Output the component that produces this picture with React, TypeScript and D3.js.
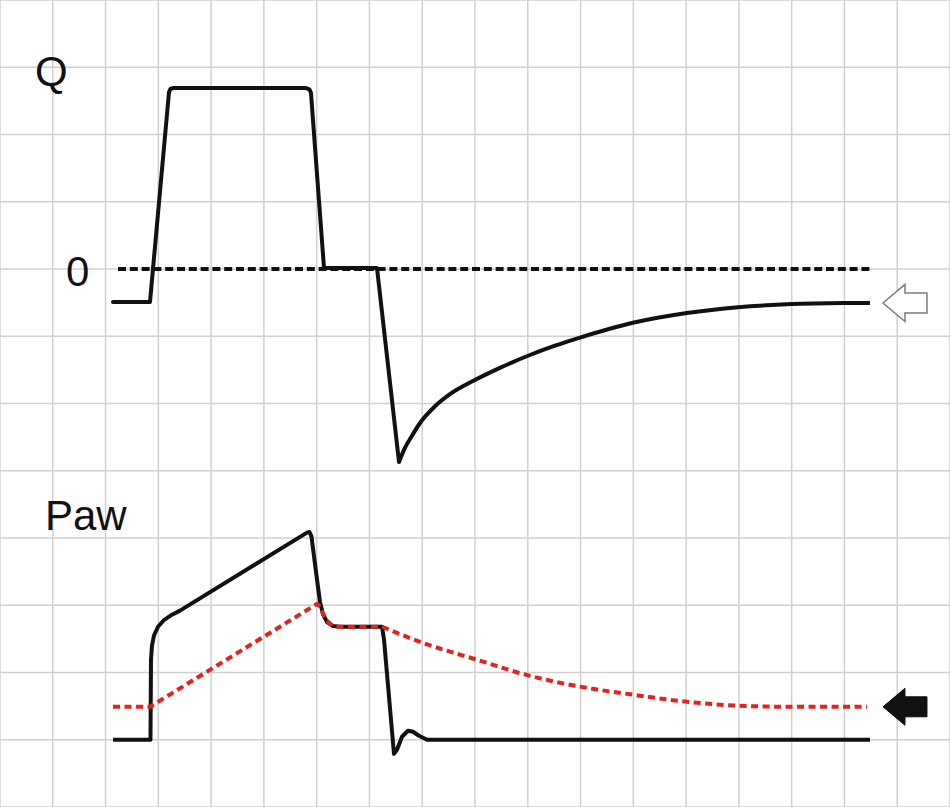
import React from "react";
import * as d3 from "d3";

// time in grid divisions, values in grid divisions (relative to each trace's zero)
const qInspT = [2.141, 2.842, 3.202, 3.23, 3.278, 5.798, 5.864, 5.892, 6.139, 7.143, 7.56];
const qInspV = [-0.49, -0.49, 2.63, 2.68, 2.69, 2.69, 2.67, 2.62, 0.015, 0.015, -2.87];

const qExpT = [7.56, 7.673, 7.806, 7.958, 8.242, 8.526, 8.962, 9.473, 10.004, 10.515, 10.989, 11.993, 13.016, 13.983, 15.006, 16.01, 16.484];
const qExpV = [-2.87, -2.66, -2.48, -2.29, -2.04, -1.86, -1.665, -1.47, -1.29, -1.14, -1.02, -0.8, -0.655, -0.568, -0.522, -0.507, -0.505];

const pawT = [2.141, 2.851, 2.861, 2.88, 2.918, 2.994, 3.107, 3.259, 3.41, 5.817, 5.864, 5.902, 5.987, 6.063, 6.12, 6.196, 6.309, 6.442, 7.238, 7.276, 7.465, 7.522, 7.617, 7.73, 7.825, 7.939, 8.09, 16.484];
const pawV = [0, 0, 1.19, 1.4, 1.55, 1.68, 1.78, 1.86, 1.92, 3.08, 3.09, 3.02, 2.5, 2.05, 1.87, 1.75, 1.69, 1.68, 1.68, 1.49, -0.21, -0.15, 0.045, 0.134, 0.119, 0.06, 0, 0];

const alvT = [2.141, 2.842, 6.006, 6.063, 6.12, 6.196, 6.309, 6.442, 7.238];
const alvV = [0.49, 0.49, 2.02, 1.98, 1.87, 1.77, 1.69, 1.68, 1.68];
const alvDecayT = [7.238, 8.014, 9.037, 10.042, 10.989, 11.993, 13.016, 14.02, 15.025, 16.427];
const alvDecayV = [1.68, 1.44, 1.19, 0.95, 0.79, 0.67, 0.565, 0.505, 0.49, 0.49];

const zeroLineT = [2.236, 16.484];
const arrowTipT = 16.73;
const qArrowV = -0.505;
const pawArrowV = 0.49;

const gridCols = d3.range(0, 19);
const gridRows = d3.range(0, 13);

const W = 950;
const H = 807;

export default function App() {
  const x = d3.scaleLinear().domain([0, 18]).range([0, W]);
  const gy = d3.scaleLinear().domain([0, 12]).range([0, H]);
  const yQ = d3.scaleLinear().domain([0, 1]).range([gy(4), gy(3)]);
  const yP = d3.scaleLinear().domain([0, 1]).range([gy(11), gy(10)]);

  const zip = (t: number[], v: number[]) => t.map((d, i) => [d, v[i]] as [number, number]);
  const lineQ = d3.line<[number, number]>().x((d) => x(d[0])).y((d) => yQ(d[1]));
  const lineQm = d3.line<[number, number]>().x((d) => x(d[0])).y((d) => yQ(d[1])).curve(d3.curveMonotoneX);
  const lineP = d3.line<[number, number]>().x((d) => x(d[0])).y((d) => yP(d[1]));
  const linePm = d3.line<[number, number]>().x((d) => x(d[0])).y((d) => yP(d[1])).curve(d3.curveMonotoneX);

  const arrowPath = "M0,0 L22,-18.5 L22,-10 L44,-10 L44,10 L22,10 L22,18.5 Z";

  const labelFont = "'Liberation Sans', Arial, Helvetica, sans-serif";

  return (
    <svg width={W} height={H} style={{ position: "absolute", left: 0, top: 0, background: "#fff" }}>
      <g>
        {gridCols.map((c) => (
          <line key={"c" + c} x1={x(c)} x2={x(c)} y1={0} y2={H} stroke="#d0d0d0" strokeWidth={1.5} />
        ))}
        {gridRows.map((r) => (
          <line key={"r" + r} x1={0} x2={W} y1={gy(r)} y2={gy(r)} stroke="#d0d0d0" strokeWidth={1.5} />
        ))}
      </g>

      {/* Q trace */}
      <path
        d={lineQ(zip(zeroLineT, [0, 0])) || ""}
        fill="none"
        stroke="#111"
        strokeWidth={4}
        strokeDasharray="8 3.8"
      />
      <path d={lineQ(zip(qInspT, qInspV)) || ""} fill="none" stroke="#111" strokeWidth={4} strokeLinejoin="round" strokeLinecap="round" />
      <path d={lineQm(zip(qExpT, qExpV)) || ""} fill="none" stroke="#111" strokeWidth={4} strokeLinejoin="round" strokeLinecap="butt" />

      {/* Paw trace */}
      <path d={lineP(zip(pawT, pawV)) || ""} fill="none" stroke="#111" strokeWidth={4} strokeLinejoin="round" strokeLinecap="butt" />
      <path
        d={(lineP(zip(alvT, alvV)) || "") + (linePm(zip(alvDecayT, alvDecayV)) || "")}
        fill="none"
        stroke="#e3221c"
        strokeWidth={4}
        strokeDasharray="7 4.5"
      />

      {/* arrows */}
      <path
        d={arrowPath}
        transform={`translate(${x(arrowTipT)},${yQ(qArrowV)})`}
        fill="#fff"
        stroke="#7a7a7a"
        strokeWidth={1.5}
      />
      <path
        d={arrowPath}
        transform={`translate(${x(arrowTipT)},${yP(pawArrowV)})`}
        fill="#111"
        stroke="#111"
        strokeWidth={1}
      />

      {/* labels */}
      <text x={35} y={86} fontFamily={labelFont} fontSize={42} fill="#111">Q</text>
      <text x={66} y={286} fontFamily={labelFont} fontSize={42} fill="#111">0</text>
      <text x={45} y={530} fontFamily={labelFont} fontSize={42} fill="#111">Paw</text>
    </svg>
  );
}
